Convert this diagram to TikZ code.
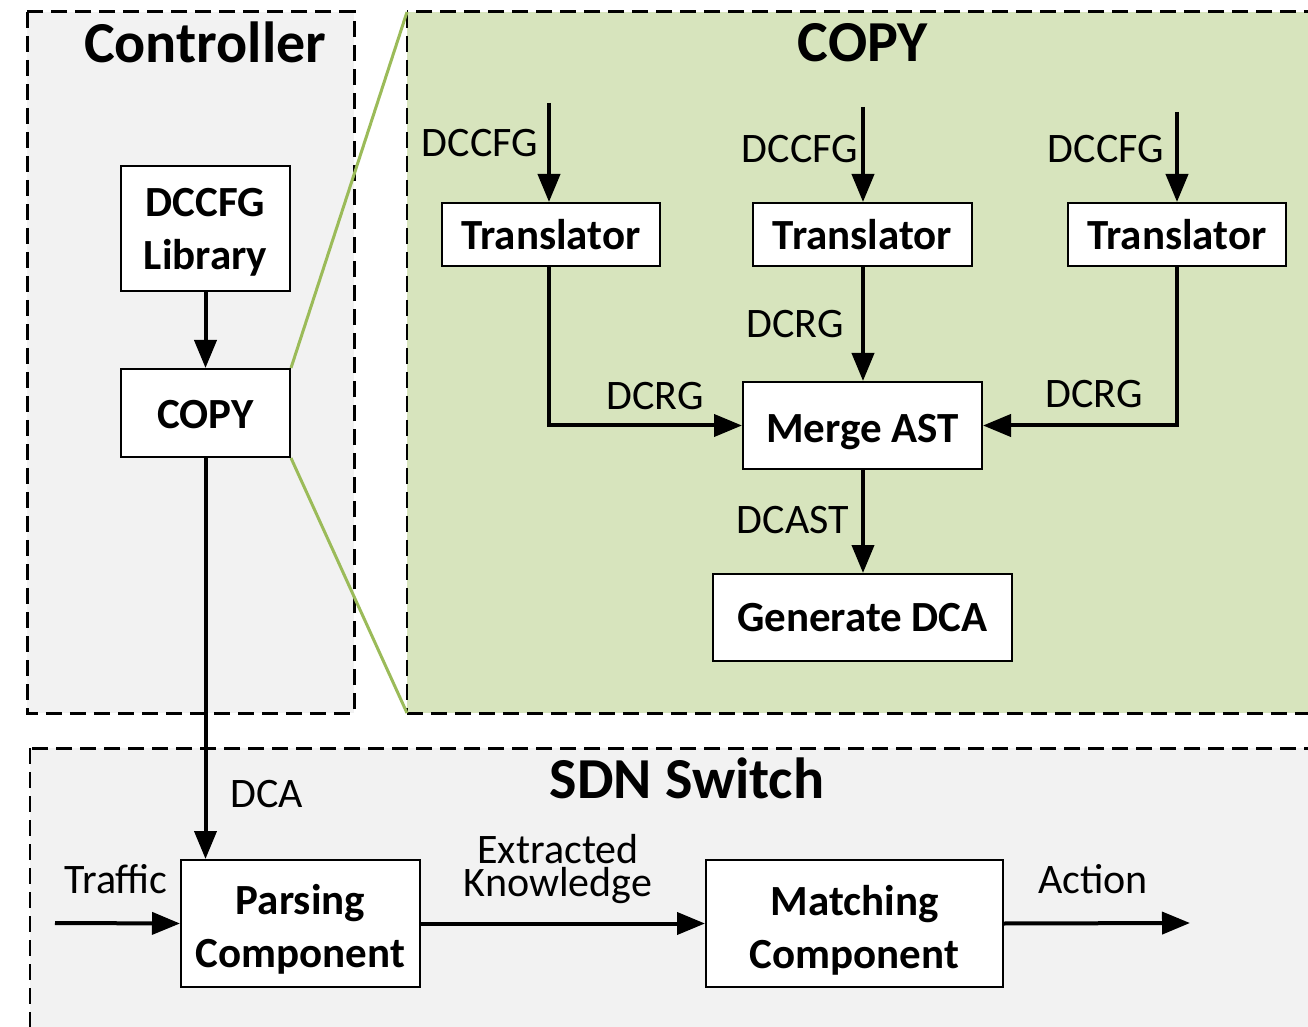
\documentclass[tikz,border=0pt]{standalone}
\usepackage{fontspec}
\setmainfont{Carlito}
\usetikzlibrary{arrows.meta}
\definecolor{panelgray}{HTML}{F2F2F2}
\definecolor{copygreen}{HTML}{D7E4BD}
\definecolor{zoomline}{HTML}{9BBB59}
% invisible strut: a taller first line sets the text lower in its block
\newcommand{\dropstrut}[1]{\rule{0pt}{#1}}
\tikzset{
  blk/.style={draw=black, line width=1pt, fill=white, inner sep=0pt, align=center,
    font=\fontsize{21.5}{26.5}\selectfont\bfseries},
  lbl/.style={inner sep=0pt, align=center, font=\fontsize{21}{16.8}\selectfont},
  ttl/.style={inner sep=0pt, font=\fontsize{29}{34}\selectfont\bfseries},
  flow/.style={line width=2pt, -{Triangle[length=14pt,width=11pt]}},
  region/.style={dash pattern=on 8pt off 4pt, line width=1.5pt},
  thinregion/.style={dash pattern=on 8pt off 4pt, line width=0.9pt},
}
\begin{document}
\begin{tikzpicture}[x=0.5pt,y=-0.5pt]
\useasboundingbox (0,0) rectangle (1308,1027);
\clip (0,0) rectangle (1308,1027);
\fill[white] (0,0) rectangle (1308,1027);

% panels
\filldraw[region, fill=panelgray] (27,12) rectangle (354,713);
\fill[copygreen] (407,12) rectangle (1320,713);
\draw[region] (1320,12) -- (407,12);
\draw[region] (407,713) -- (1320,713);
\draw[thinregion] (407,12) -- (407,713);
\fill[panelgray] (30,748) rectangle (1320,1040);
\draw[region] (1320,748) -- (30,748);
\draw[thinregion] (30,748) -- (30,1040);

% titles
\node[ttl, anchor=base] (ctltitle) at (205,63) {Controller};
\node[ttl, anchor=base] (copytitle) at (863,62) {COPY};
\node[ttl, anchor=base] (sdntitle) at (687,798) {SDN Switch};

% controller blocks
\node[blk, minimum width=84.5pt, minimum height=62.5pt] (lib) at (205.5,228.5) {\dropstrut{17.8pt}DCCFG\\Library};
\node[blk, minimum width=84.5pt, minimum height=44pt] (copy) at (205.5,413) {\dropstrut{15.8pt}COPY};

% zoom lines from COPY block to its detail panel
\coordinate (ztop) at (407,12);
\coordinate (zbot) at (407,713);
\draw[zoomline, line width=1.5pt] (copy.north east) -- (ztop);
\draw[zoomline, line width=1.5pt] (copy.south east) -- (zbot);

% COPY detail blocks
\node[blk, minimum width=109pt, minimum height=31.5pt] (t1) at (551,234.5) {Translator};
\node[blk, minimum width=109.5pt, minimum height=31.5pt] (t2) at (862.5,234.5) {Translator};
\node[blk, minimum width=109pt, minimum height=31.5pt] (t3) at (1177,234.5) {Translator};
\node[blk, minimum width=119.5pt, minimum height=43.5pt] (merge) at (862.5,425.5) {\dropstrut{21pt}Merge AST};
\node[blk, minimum width=149.5pt, minimum height=43.5pt] (gen) at (862.5,617.5) {Generate DCA};

% switch blocks
\node[blk, minimum width=119.5pt, minimum height=63.5pt] (parse) at (300.5,923.5) {\dropstrut{21pt}Parsing\\Component};
\node[blk, minimum width=148.5pt, minimum height=63.5pt] (match) at (854.5,923.5) {\dropstrut{22pt}Matching\\Component};

% free ends
\coordinate (in1) at (549,103);
\coordinate (in2) at (863,107);
\coordinate (in3) at (1177,112);
\coordinate (trafficin) at (55,923);
\coordinate (actionout) at (1190,923);

% connectors
\draw[flow] (lib.south) -- (copy.north);
\draw[flow] (in1) -- (in1 |- t1.north);
\draw[flow] (in2) -- (in2 |- t2.north);
\draw[flow] (in3) -- (in3 |- t3.north);
\draw[flow] (in2 |- t2.south) -- (in2 |- merge.north);
\draw[flow] (in1 |- t1.south) |- (merge.west);
\draw[flow] (in3 |- t3.south) |- (merge.east);
\draw[flow] (in2 |- merge.south) -- (in2 |- gen.north);
\draw[flow] (copy.south) -- (copy.south |- parse.north);
\draw[flow] (trafficin) -- (parse.west);
\draw[flow] (parse.east) -- (match.west);
\draw[flow] (match.east) -- (actionout);

% connector labels
\node[lbl, anchor=base] (l1) at (480,157) {DCCFG};
\node[lbl, anchor=base] (l2) at (800,163) {DCCFG};
\node[lbl, anchor=base] (l3) at (1106,163) {DCCFG};
\node[lbl, anchor=base] (l4) at (795,338) {DCRG};
\node[lbl, anchor=base] (l5) at (655,410) {DCRG};
\node[lbl, anchor=base] (l6) at (1094,408) {DCRG};
\node[lbl, anchor=base] (l7) at (793,533) {DCAST};
\node[lbl, anchor=base] (l8) at (267,807) {DCA};
\node[lbl, anchor=base] (l9) at (116,893) {Traffic};
\node[lbl] (l10) at (558,869) {Extracted\\Knowledge};
\node[lbl, anchor=base] (l11) at (1093,893) {Action};
\end{tikzpicture}
\end{document}
